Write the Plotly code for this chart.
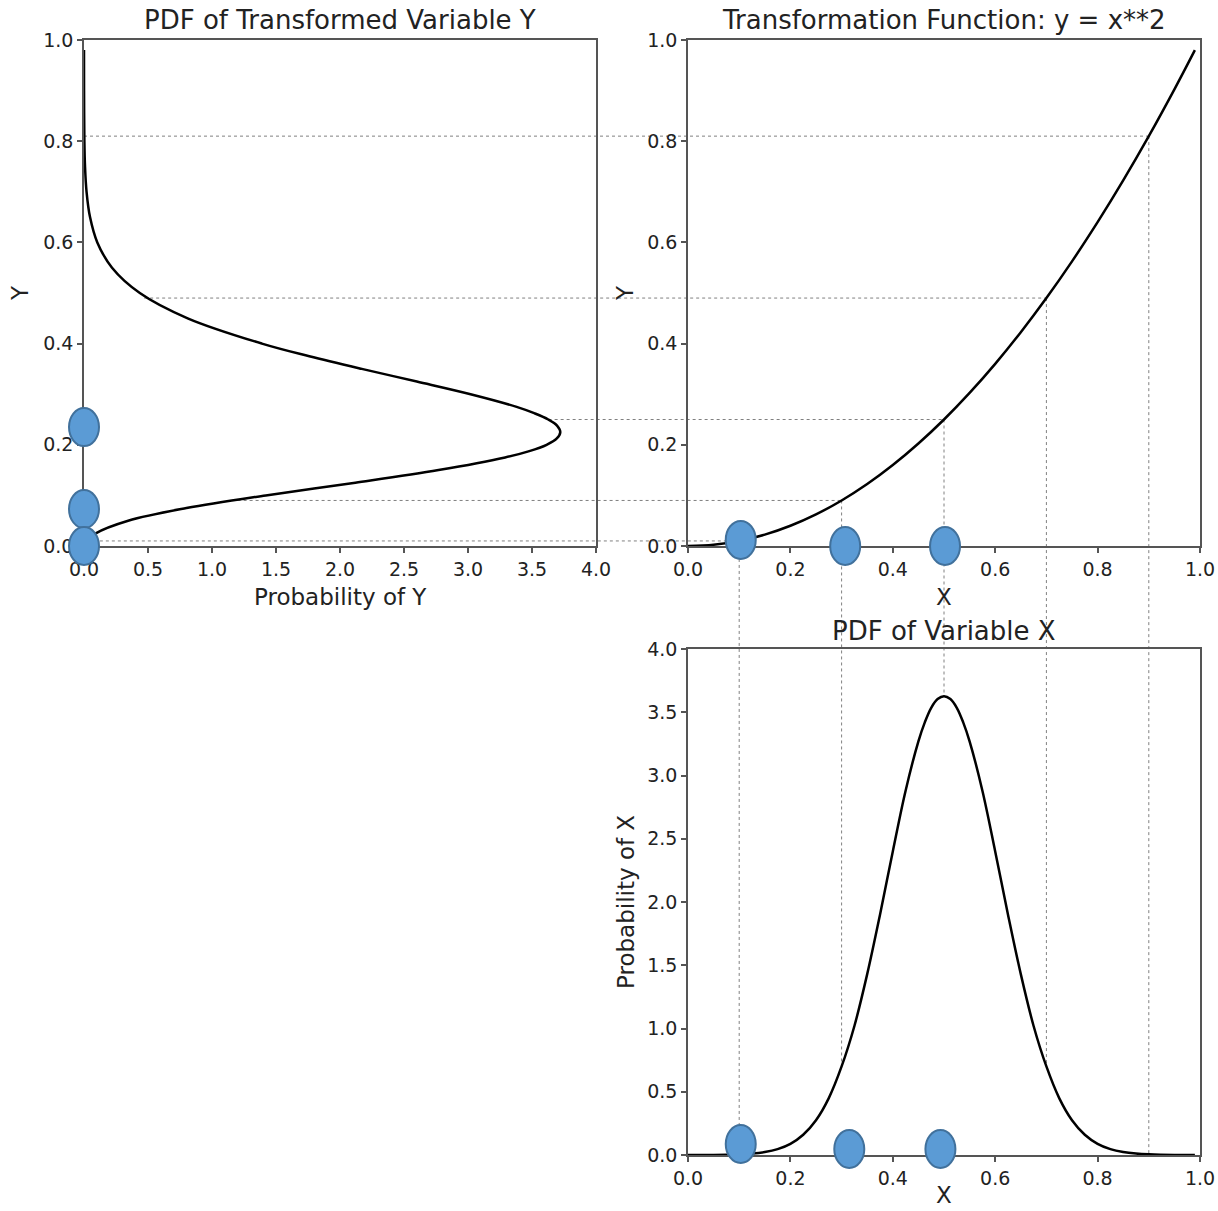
import plotly.graph_objects as go

W, H = 1218, 1211

# ---------------- data ----------------
# PDF of variable X
x_pdf_x = [0.0, 0.05, 0.1, 0.125, 0.15, 0.175, 0.2, 0.225, 0.25, 0.275, 0.3, 0.325, 0.35, 0.375,
           0.4, 0.425, 0.45, 0.4625, 0.475, 0.4875, 0.5, 0.5125, 0.525, 0.5375, 0.55, 0.575,
           0.6, 0.625, 0.65, 0.675, 0.7, 0.725, 0.75, 0.775, 0.8, 0.825, 0.85, 0.875, 0.9,
           0.95, 0.99]
p_pdf_x = [0.0, 0.0, 0.005, 0.011, 0.023, 0.046, 0.088, 0.16, 0.275, 0.45, 0.70, 1.02, 1.43, 1.90,
           2.40, 2.88, 3.27, 3.42, 3.535, 3.604, 3.627, 3.604, 3.535, 3.42, 3.27, 2.88,
           2.40, 1.90, 1.43, 1.02, 0.70, 0.45, 0.275, 0.16, 0.088, 0.046, 0.023, 0.011, 0.005,
           0.0, 0.0]

# transformation y = x**2
x_trans = [0.0, 0.05, 0.1, 0.15, 0.2, 0.25, 0.3, 0.35, 0.4, 0.45, 0.5, 0.55, 0.6, 0.65, 0.7,
           0.75, 0.8, 0.85, 0.9, 0.95, 0.99]
y_trans = [0.0, 0.0025, 0.01, 0.0225, 0.04, 0.0625, 0.09, 0.1225, 0.16, 0.2025, 0.25, 0.3025,
           0.36, 0.4225, 0.49, 0.5625, 0.64, 0.7225, 0.81, 0.9025, 0.98]

# PDF of transformed variable Y (plotted sideways)
y_pdf_y = [0.0, 0.01, 0.025, 0.05, 0.075, 0.1, 0.125, 0.15, 0.175, 0.1875, 0.2, 0.2125, 0.225,
           0.2375, 0.25, 0.2625, 0.275, 0.3, 0.325, 0.35, 0.375, 0.4, 0.45, 0.5, 0.55, 0.6,
           0.65, 0.7, 0.75, 0.8, 0.9, 0.98]
p_pdf_y = [0.0, 0.025, 0.092, 0.345, 0.80, 1.42, 2.12, 2.77, 3.29, 3.479, 3.614, 3.694, 3.721,
           3.697, 3.627, 3.517, 3.38, 3.02, 2.60, 2.17, 1.76, 1.39, 0.81, 0.436, 0.219, 0.104,
           0.047, 0.02, 0.008, 0.003, 0.0005, 0.0]

# connector guide points
conn_x = [0.1, 0.3, 0.5, 0.7, 0.9]
conn_y = [0.01, 0.09, 0.25, 0.49, 0.81]
conn_pdf_y = [0.03, 1.2, 3.63, 0.47, 0.0]
conn_pdf_x = [0.005, 0.70, 3.63, 0.70, 0.005]

# blue sample markers
dots_left_y = [0.235, 0.073, 0.0]
dots_top_x = [0.103, 0.307, 0.502]
dots_top_y = [0.012, 0.0, 0.0]
dots_bot_x = [0.103, 0.315, 0.493]
dots_bot_y = [0.087, 0.047, 0.047]

# ---------------- layout geometry (pixels) ----------------
TL = dict(l=84, r=596, t=40, b=546, xr=(0, 4), yr=(0, 1))
TR = dict(l=688, r=1200, t=40, b=546, xr=(0, 1), yr=(0, 1))
BR = dict(l=688, r=1200, t=649, b=1155, xr=(0, 1), yr=(0, 4))


def px(ax, v):
    return ax['l'] + (v - ax['xr'][0]) / (ax['xr'][1] - ax['xr'][0]) * (ax['r'] - ax['l'])


def py(ax, v):
    return ax['b'] - (v - ax['yr'][0]) / (ax['yr'][1] - ax['yr'][0]) * (ax['b'] - ax['t'])


def fx(p):
    return p / W


def fy(p):
    return 1 - p / H


FONT = "DejaVu Sans"
TXT = "#222222"
LINE = "#555555"

fig = go.Figure()
curve_line = dict(color="black", width=2.5, shape="spline", smoothing=1.0)
fig.add_trace(go.Scatter(x=p_pdf_y, y=y_pdf_y, mode="lines", xaxis="x", yaxis="y",
                         line=curve_line, showlegend=False, hoverinfo="skip"))
fig.add_trace(go.Scatter(x=x_trans, y=y_trans, mode="lines", xaxis="x2", yaxis="y2",
                         line=curve_line, showlegend=False, hoverinfo="skip"))
fig.add_trace(go.Scatter(x=x_pdf_x, y=p_pdf_x, mode="lines", xaxis="x3", yaxis="y3",
                         line=curve_line, showlegend=False, hoverinfo="skip"))


def axis(ax, horizontal, dtick, anchor):
    if horizontal:
        dom = [ax['l'] / W, ax['r'] / W]
        rng = list(ax['xr'])
    else:
        dom = [1 - ax['b'] / H, 1 - ax['t'] / H]
        rng = list(ax['yr'])
    return dict(domain=dom, range=rng, anchor=anchor, dtick=dtick, tick0=0, tickformat=".1f",
                showgrid=False, zeroline=False, showline=True, mirror=True, automargin=False,
                linecolor=LINE, linewidth=1.5, ticks="outside", ticklen=5, tickwidth=1.5,
                tickcolor=LINE, tickfont=dict(family=FONT, size=19, color=TXT), fixedrange=True)


shapes = []
# horizontal connectors: from Y pdf curve to transformation curve
for xv, yv, pv in zip(conn_x, conn_y, conn_pdf_y):
    shapes.append(dict(type="line", xref="paper", yref="paper",
                       x0=fx(px(TL, pv)), x1=fx(px(TR, xv)),
                       y0=fy(py(TL, yv)), y1=fy(py(TR, yv)),
                       line=dict(color="#808080", width=1, dash="dot"), layer="below"))
# vertical connectors: from transformation curve to X pdf curve
for xv, yv, pv in zip(conn_x, conn_y, conn_pdf_x):
    shapes.append(dict(type="line", xref="paper", yref="paper",
                       x0=fx(px(TR, xv)), x1=fx(px(BR, xv)),
                       y0=fy(py(TR, yv)), y1=fy(py(BR, pv)),
                       line=dict(color="#808080", width=1, dash="dot"), layer="below"))


def ellipse(cx, cy):
    return dict(type="circle", xref="paper", yref="paper", xsizemode="pixel", ysizemode="pixel",
                xanchor=fx(cx), yanchor=fy(cy), x0=-15, x1=15, y0=-19, y1=19,
                fillcolor="#5B9BD5", line=dict(color="#41719C", width=2), layer="above")


for yv in dots_left_y:
    shapes.append(ellipse(px(TL, 0), py(TL, yv)))
for xv, yv in zip(dots_top_x, dots_top_y):
    shapes.append(ellipse(px(TR, xv), py(TR, yv)))
for xv, yv in zip(dots_bot_x, dots_bot_y):
    shapes.append(ellipse(px(BR, xv), py(BR, yv)))


def ann(text, xp, yp, size, angle=0):
    return dict(text=text, xref="paper", yref="paper", x=fx(xp), y=fy(yp), showarrow=False,
                xanchor="center", yanchor="middle", textangle=angle,
                font=dict(family=FONT, size=size, color=TXT))


annotations = [
    ann("PDF of Transformed Variable Y", 340, 20, 26),
    ann("Transformation Function: y = x**2", 944, 20, 26),
    ann("PDF of Variable X", 944, 631, 26),
    ann("Probability of Y", 340, 597, 23),
    ann("X", 944, 597, 23),
    ann("X", 944, 1195, 23),
    ann("Y", 20, 293, 23, -90),
    ann("Y", 625, 293, 23, -90),
    ann("Probability of X", 626, 902, 23, -90),
]

fig.update_layout(
    width=W, height=H, margin=dict(l=0, r=0, t=0, b=0, autoexpand=False),
    paper_bgcolor="white", plot_bgcolor="white", showlegend=False,
    xaxis=axis(TL, True, 0.5, "y"), yaxis=axis(TL, False, 0.2, "x"),
    xaxis2=axis(TR, True, 0.2, "y2"), yaxis2=axis(TR, False, 0.2, "x2"),
    xaxis3=axis(BR, True, 0.2, "y3"), yaxis3=axis(BR, False, 0.5, "x3"),
    shapes=shapes, annotations=annotations,
)

fig.write_html("out.html")
